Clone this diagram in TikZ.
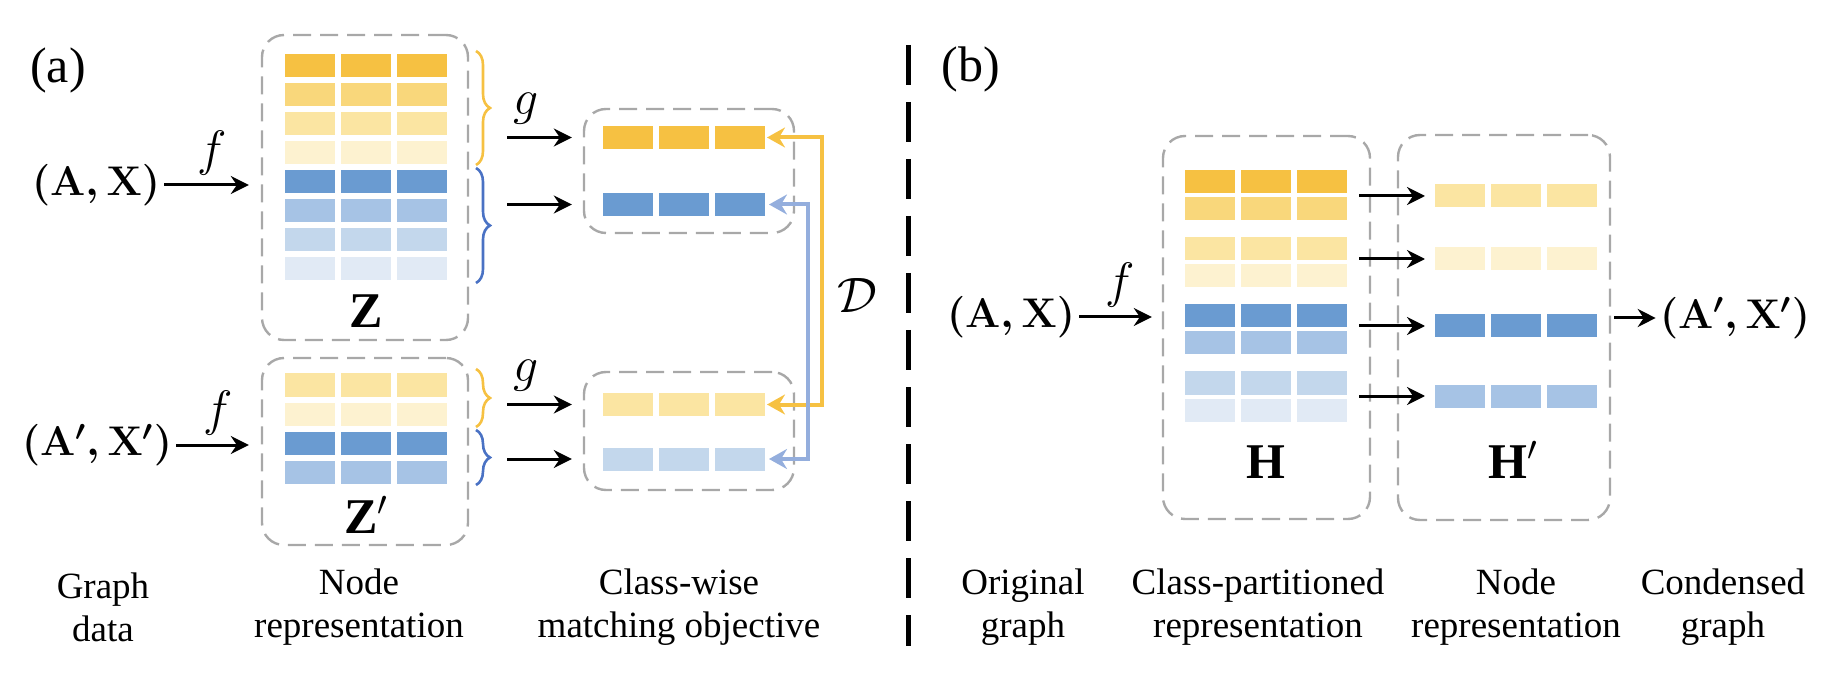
\documentclass[tikz,border=0pt]{standalone}
\usepackage{amsmath}
\usepackage{fontspec}
\setmainfont{Liberation Serif}
\usetikzlibrary{arrows.meta,fit,decorations.pathreplacing}

\definecolor{yA}{HTML}{F6C142}
\definecolor{yB}{HTML}{F9D77B}
\definecolor{yC}{HTML}{FBE5A2}
\definecolor{yD}{HTML}{FDF2D0}
\definecolor{bA}{HTML}{6A9BD1}
\definecolor{bB}{HTML}{A6C3E5}
\definecolor{bC}{HTML}{C3D7EC}
\definecolor{bD}{HTML}{E1EAF5}
\definecolor{linkblue}{HTML}{94AEDD}
\definecolor{braceblue}{HTML}{4A72C4}
\definecolor{boxgray}{HTML}{A8A8A8}

% one embedding vector: three cells in a row
\newcommand{\vecrow}[3]{%
  \node[rowslot] (#1) at (#2) {};
  \foreach \k in {0,1,2}
    \fill[#3] ([xshift=\k*28pt]#1.south west) rectangle ++(25pt,11.5pt);
}

\begin{document}
\begin{tikzpicture}[x=0.5pt, y=-0.5pt,
  arr/.style={-{Stealth[length=9pt,width=9pt,inset=3pt]}, line width=1.5pt},
  dbox/.style={draw=boxgray, dash pattern=on 9pt off 4.5pt, line width=1.2pt, rounded corners=11pt, inner sep=0pt},
  rowslot/.style={minimum width=81pt, minimum height=11.5pt, inner sep=0pt, outer sep=0pt},
  math/.style={font=\fontsize{22}{26}\selectfont\boldmath, inner sep=2pt},
  fn/.style={font=\fontsize{27}{30}\selectfont, inner sep=2pt},
  bigmath/.style={font=\fontsize{25}{30}\selectfont, inner sep=2pt},
  panel/.style={font=\fontsize{25}{30}\selectfont},
  stage/.style={align=center, font=\fontsize{18.5}{21.5}\selectfont},
  ybrace/.style={decorate, decoration={brace, amplitude=7pt}, draw=yA, line width=1.3pt},
  bbrace/.style={decorate, decoration={brace, amplitude=7pt}, draw=braceblue, line width=1.3pt},
  ylink/.style={{Stealth[length=9pt,width=10pt,inset=3pt]}-{Stealth[length=9pt,width=10pt,inset=3pt]}, draw=yA, line width=2pt, shorten <=1pt, shorten >=1pt},
  blink/.style={{Stealth[length=9pt,width=10pt,inset=3pt]}-{Stealth[length=9pt,width=10pt,inset=3pt]}, draw=linkblue, line width=2pt, shorten <=2pt, shorten >=2pt},
  divider/.style={line width=2.5pt, dash pattern=on 20pt off 8.5pt}]

  \useasboundingbox (0,0) rectangle (1848,684);

  % ---------------- (a) ----------------
  \node[panel] (pa) at (58,70) {(a)};

  \node[math] (ax)  at (96,185) {$(\mathbf{A},\mathbf{X})$};
  \node[math] (axs) at (97,445) {$(\mathbf{A}',\mathbf{X}')$};

  \node[dbox, fit={(262,35) (468,340)}]  (zbox)  {};
  \node[dbox, fit={(262,358) (468,545)}] (zsbox) {};
  \node[dbox, fit={(584,109) (794,233)}] (mtop)  {};
  \node[dbox, fit={(584,372) (794,490)}] (mbot)  {};

  \foreach \c [count=\i] in {yA,yB,yC,yD,bA,bB,bC,bD}
    \vecrow{z\i}{366,37+29*\i}{\c};
  \foreach \c [count=\i] in {yC,yD,bA,bB}
    \vecrow{zs\i}{366,356+29*\i}{\c};

  \vecrow{mt1}{684,137.5}{yA}
  \vecrow{mt2}{684,204.5}{bA}
  \vecrow{mb1}{684,404.5}{yC}
  \vecrow{mb2}{684,459}{bC}

  \node[bigmath] (zl)  at (366,311) {$\mathbf{Z}$};
  \node[bigmath] (zsl) at (366,515) {$\mathbf{Z}'$};

  \draw[ybrace] (476,51)  -- (476,165);
  \draw[bbrace] (476,168) -- (476,283);
  \draw[ybrace] (476,369) -- (476,427);
  \draw[bbrace] (476,430) -- (476,485);

  \draw[arr, shorten >=6pt] (ax.east)  -- node[above=2pt, fn] {$f$} (ax.east -| zbox.west);
  \draw[arr, shorten >=6pt] (axs.east) -- node[above=2pt, fn] {$f$} (axs.east -| zsbox.west);

  \draw[arr, shorten <=19pt, shorten >=5.5pt] (zbox.east |- mt1)  -- node[above=4pt, fn] {$g$} (mtop.west |- mt1);
  \draw[arr, shorten <=19pt, shorten >=5.5pt] (zbox.east |- mt2)  -- (mtop.west |- mt2);
  \draw[arr, shorten <=19pt, shorten >=5.5pt] (zsbox.east |- mb1) -- node[above=4pt, fn] {$g$} (mbot.west |- mb1);
  \draw[arr, shorten <=19pt, shorten >=5.5pt] (zsbox.east |- mb2) -- (mbot.west |- mb2);

  \draw[ylink] (mt1.east) -- ++(57,0) |- (mb1.east);
  \draw[blink] (mt2.east) -- ++(43,0) |- (mb2.east);
  \node[fn] (dist) at (857,295) {$\mathcal{D}$};

  % ---------------- divider ----------------
  \draw[divider] (908,45) -- (908,646);

  % ---------------- (b) ----------------
  \node[panel] (pb) at (971,69) {(b)};

  \node[math] (bx)  at (1011,317) {$(\mathbf{A},\mathbf{X})$};
  \node[math] (bxs) at (1735,318) {$(\mathbf{A}',\mathbf{X}')$};

  \node[dbox, fit={(1163,136) (1370,519)}] (hbox)  {};
  \node[dbox, fit={(1398,135) (1610,520)}] (hsbox) {};

  \foreach \y/\c [count=\i] in {182/yA,209/yB,249/yC,276/yD,316/bA,343/bB,383/bC,410/bD}
    \vecrow{h\i}{1266,\y}{\c};
  \foreach \y/\c [count=\i] in {196/yC,259/yD,326/bA,396/bB}
    \vecrow{hs\i}{1516,\y}{\c};

  \node[bigmath] (hl)  at (1266,462) {$\mathbf{H}$};
  \node[bigmath] (hsl) at (1513,460) {$\mathbf{H}'$};

  \draw[arr, shorten >=5pt] (bx.east) -- node[above=2pt, fn] {$f$} (bx.east -| hbox.west);
  \foreach \i/\j in {1/1,3/2,5/3,7/4}
    \draw[arr, shorten <=6pt, shorten >=5pt] (h\i.east |- hs\j) -- (hs\j.west);
  \draw[arr, shorten <=1.5pt] (hsbox.east |- bxs) -- (bxs.west);

  % ---------------- captions ----------------
  \node[stage] (cgraph) at (103,607)  {Graph\\data};
  \node[stage] (cnode)  at (359,607)  {Node\\representation};
  \node[stage] (cmatch) at (679,607)  {Class-wise\\matching objective};
  \node[stage] (corig)  at (1023,607) {Original\\graph};
  \node[stage] (cpart)  at (1258,607) {Class-partitioned\\representation};
  \node[stage] (cnodeb) at (1516,607) {Node\\representation};
  \node[stage] (ccond)  at (1723,607) {Condensed\\graph};

\end{tikzpicture}
\end{document}
